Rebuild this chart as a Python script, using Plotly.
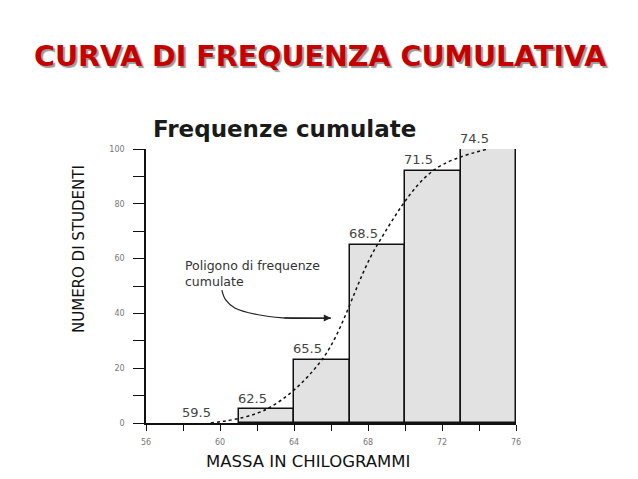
import plotly.graph_objects as go

# histogram classes (kg) and cumulative number of students
bin_left = [61, 64, 67, 70, 73]
bin_width = 3
cum_counts = [5, 23, 65, 92, 100]

# points of the cumulative frequency polygon
poly_x = [59.5, 62.5, 65.5, 68.5, 71.5, 74.5]
poly_y = [0, 5, 23, 65, 92, 100]
poly_labels = ["59.5", "62.5", "65.5", "68.5", "71.5", "74.5"]

# hand-drawn arrow pointing at the curve
arrow_x = [60.1, 60.3, 60.8, 62.0, 63.4, 66.0]
arrow_y = [48.5, 45.0, 42.0, 39.6, 38.4, 38.3]

# the page has an 8px body margin, so the figure is that much smaller
OFF = 8
W, H = 638 - OFF, 479 - OFF
L, T = 146 - OFF, 149 - OFF
pw, ph = 370, 274
R, B = W - L - pw, H - T - ph


def px(x):
    # window pixel -> paper x
    return (x - OFF - L) / pw


def py(y):
    # window pixel -> paper y
    return (T + ph - (y - OFF)) / ph


fig = go.Figure()
fig.add_trace(go.Bar(
    x=[b + bin_width / 2 for b in bin_left], y=cum_counts, width=bin_width,
    marker=dict(color="#e2e2e2", line=dict(color="#111111", width=1.5)),
    hoverinfo="skip", showlegend=False))
fig.add_trace(go.Scatter(
    x=poly_x, y=poly_y, mode="lines", line=dict(color="#111111", width=1.5, dash="dot",
                                                shape="spline", smoothing=1.0),
    hoverinfo="skip", showlegend=False, cliponaxis=False))
fig.add_trace(go.Scatter(
    x=arrow_x, y=arrow_y, mode="lines", line=dict(color="#222222", width=1.2, shape="spline"),
    hoverinfo="skip", showlegend=False))

ann = []
for x, y, t in zip(poly_x, poly_y, poly_labels):
    ann.append(dict(x=x, y=y, text=t, showarrow=False, xshift=-14, yshift=11,
                    xanchor="center", yanchor="middle",
                    font=dict(family="DejaVu Sans", size=13, color="#444444")))
ann.append(dict(x=arrow_x[-1], y=arrow_y[-1], ax=arrow_x[-2], ay=arrow_y[-2],
                axref="x", ayref="y", text="", showarrow=True, arrowhead=2,
                arrowsize=1.2, arrowwidth=1.2, arrowcolor="#222222"))
ann.append(dict(x=58.0, y=54.6, xanchor="left", yanchor="middle", align="left",
                text="Poligono di frequenze<br>cumulate", showarrow=False,
                font=dict(family="DejaVu Sans", size=12.5, color="#333333")))
# slide title with its soft shadow
ann.append(dict(xref="paper", yref="paper", x=px(320), y=py(57),
                text="<b>CURVA DI FREQUENZA CUMULATIVA</b>",
                xanchor="center", yanchor="middle", showarrow=False,
                font=dict(family="DejaVu Sans", size=28.5, color="#c40000",
                          shadow="2px 2px 1px #9a9a9a")))
ann.append(dict(xref="paper", yref="paper", x=px(284), y=py(129), text="<b>Frequenze cumulate</b>",
                xanchor="center", yanchor="middle", showarrow=False,
                font=dict(family="DejaVu Sans", size=23, color="#1a1a1a")))
ann.append(dict(xref="paper", yref="paper", x=px(79), y=py(249), text="NUMERO DI STUDENTI",
                xanchor="center", yanchor="middle", textangle=-90, showarrow=False,
                font=dict(family="DejaVu Sans", size=15, color="#111111")))
ann.append(dict(xref="paper", yref="paper", x=px(308), y=py(461), text="MASSA IN CHILOGRAMMI",
                xanchor="center", yanchor="middle", showarrow=False,
                font=dict(family="DejaVu Sans", size=16.5, color="#111111")))

fig.update_layout(
    width=W, height=H, margin=dict(l=L, r=R, t=T, b=B),
    paper_bgcolor="white", plot_bgcolor="white", bargap=0,
    annotations=ann, showlegend=False,
    xaxis=dict(range=[56, 76], tickvals=[56, 60, 64, 68, 72, 76], ticks="outside", ticklen=6,
               tickcolor="#111111", showline=True, linecolor="#111111", linewidth=1.5,
               showgrid=False, zeroline=False, ticklabelstandoff=5,
               minor=dict(tickvals=[58, 62, 66, 70, 74], ticks="outside", ticklen=6,
                          tickcolor="#111111"),
               tickfont=dict(family="DejaVu Sans", size=8, color="#777777")),
    yaxis=dict(range=[0, 100], tickvals=[0, 20, 40, 60, 80, 100], ticks="outside", ticklen=11,
               tickcolor="#111111", showline=True, linecolor="#111111", linewidth=1.5,
               showgrid=False, zeroline=False, ticklabelstandoff=7,
               minor=dict(tickvals=[10, 30, 50, 70, 90], ticks="outside", ticklen=11,
                          tickcolor="#111111"),
               tickfont=dict(family="DejaVu Sans", size=8, color="#777777")),
)
fig.write_html("out.html")
